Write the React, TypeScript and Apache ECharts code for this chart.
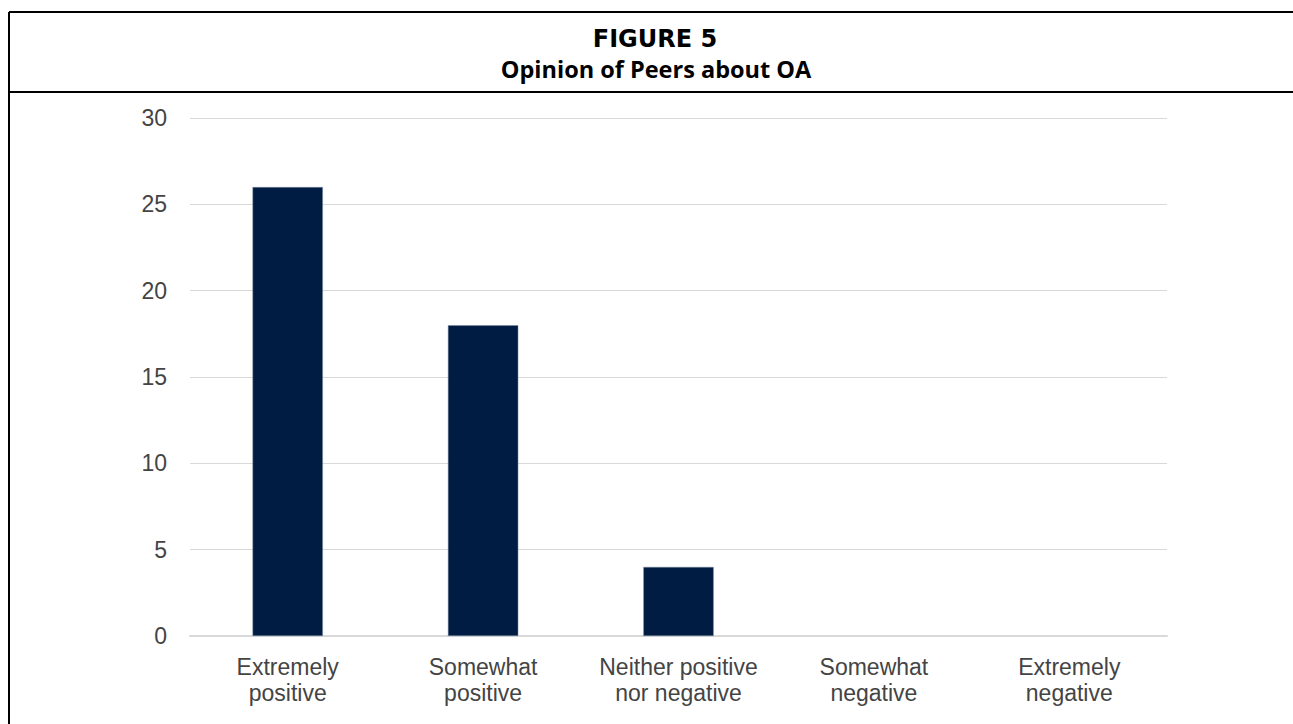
import React, { useEffect, useRef } from "react";
import * as echarts from "echarts";

const categories = [
  "Extremely\npositive",
  "Somewhat\npositive",
  "Neither positive\nnor negative",
  "Somewhat\nnegative",
  "Extremely\nnegative",
];
const values = [26, 18, 4, 0, 0];
const titleLine1 = "FIGURE 5";
const titleLine2 = "Opinion of Peers about OA";

export default function App() {
  const ref = useRef<HTMLDivElement>(null);
  useEffect(() => {
    if (!ref.current) return;
    const chart = echarts.init(ref.current, undefined, { renderer: "svg" });
    chart.setOption({
      animation: false,
      backgroundColor: "#ffffff",
      title: [
        {
          text: titleLine1,
          left: 650,
          top: 22,
          textAlign: "center",
          textStyle: { fontFamily: "DejaVu Sans", fontWeight: "bold", fontSize: 24, color: "#000" },
        },
        {
          text: titleLine2,
          left: 651,
          top: 52,
          textAlign: "center",
          textStyle: { fontFamily: "Open Sans", fontWeight: "bold", fontSize: 23.5, color: "#000" },
        },
      ],
      graphic: [
        { type: "line", shape: { x1: 9, y1: 12, x2: 1293, y2: 12 }, style: { stroke: "#000", lineWidth: 2 } },
        { type: "line", shape: { x1: 9, y1: 92, x2: 1293, y2: 92 }, style: { stroke: "#000", lineWidth: 2 } },
        { type: "line", shape: { x1: 9, y1: 12, x2: 9, y2: 724 }, style: { stroke: "#000", lineWidth: 2 } },
      ],
      grid: { left: 190, right: 126, top: 118, bottom: 88, containLabel: false },
      xAxis: {
        type: "category",
        data: categories,
        axisLine: { show: true, lineStyle: { color: "#d9d9d9", width: 2 } },
        axisTick: { show: false },
        axisLabel: {
          color: "#444",
          fontFamily: "Liberation Sans",
          fontSize: 23,
          lineHeight: 26,
          margin: 18,
          interval: 0,
        },
      },
      yAxis: {
        type: "value",
        min: 0,
        max: 30,
        interval: 5,
        axisLine: { show: false },
        axisTick: { show: false },
        splitLine: { lineStyle: { color: "#d9d9d9", width: 1 } },
        axisLabel: {
          color: "#444",
          fontFamily: "Liberation Sans",
          fontSize: 23,
          margin: 23,
        },
      },
      series: [
        {
          type: "bar",
          data: values.map((v) => ({
            value: v,
            itemStyle: v > 0 ? { borderColor: "#7f8ea3", borderWidth: 0.5 } : { borderWidth: 0, opacity: 0 },
          })),
          barWidth: "36%",
          itemStyle: { color: "#001c42" },
        },
      ],
    });
    return () => chart.dispose();
  }, []);
  return (
    <div
      ref={ref}
      style={{ position: "absolute", left: 0, top: 0, width: 1293, height: 724 }}
    />
  );
}
